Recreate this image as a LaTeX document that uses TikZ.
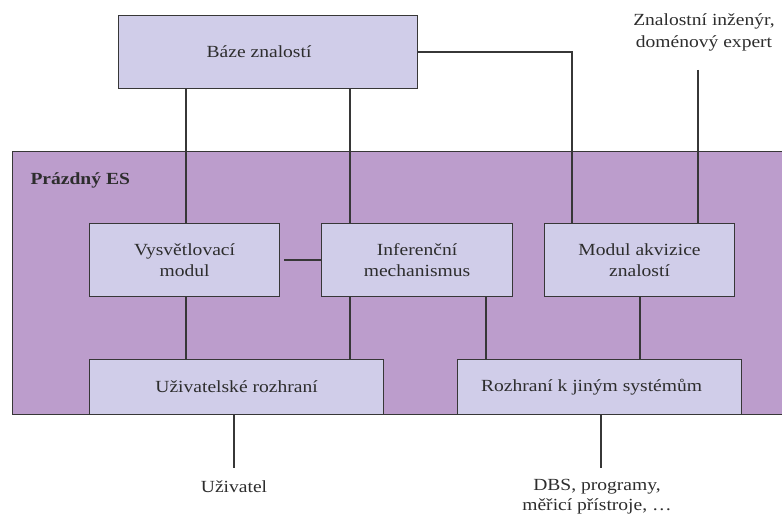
\documentclass[tikz,border=0pt]{standalone}
\usepackage{fontspec}
\setmainfont{Liberation Serif}[FakeStretch=1.15]
\definecolor{boxfill}{RGB}{208,205,233}
\definecolor{shellfill}{RGB}{188,157,204}
\definecolor{edge}{RGB}{55,55,55}
\definecolor{ink}{RGB}{45,45,45}
\begin{document}
\begin{tikzpicture}[x=1pt,y=-1pt,
  every node/.style={text=ink, font=\fontsize{17}{21}\selectfont},
  module/.style={draw=edge, fill=boxfill, line width=1.1pt, anchor=north west,
    align=center, inner sep=0pt},
  shell/.style={draw=edge, fill=shellfill, line width=1.1pt, anchor=north west,
    inner sep=0pt},
  link/.style={draw=edge, line width=1.2pt}]
\useasboundingbox (0,0) rectangle (782,516);
\clip (0,0) rectangle (782,516);

% empty expert system shell
\node[shell, minimum width=790pt, minimum height=263pt] (es) at (12,151) {};
\node[anchor=base west, font=\fontsize{17}{21}\selectfont\bfseries] (eslabel) at (27,184) {Prázdný ES};

% modules
\node[module, minimum width=299pt, minimum height=73pt] (baze) at (118,15) {\hspace*{-18pt}Báze znalostí};
\node[module, minimum width=190pt, minimum height=73pt] (vysv) at (89,223) {Vysvětlovací\\modul};
\node[module, minimum width=191pt, minimum height=73pt] (inf) at (321,223) {Inferenční\\mechanismus};
\node[module, minimum width=190pt, minimum height=73pt] (akv) at (544,223) {Modul akvizice\\znalostí};
\node[module, minimum width=294pt, minimum height=55pt] (uziv) at (89,359) {Uživatelské rozhraní};
\node[module, minimum width=284pt, minimum height=55pt] (rozh) at (457,359) {\hspace*{-16pt}Rozhraní k jiným systémům};

% outside actors
\node[anchor=north, align=center, font=\fontsize{17}{22}\selectfont] (expert) at (704,10) {Znalostní inženýr,\\doménový expert};
\node[anchor=base] (user) at (234,492) {Uživatel};
\node[anchor=north, align=center, font=\fontsize{17}{20}\selectfont] (dbs) at (597,476) {DBS, programy,\\měřicí přístroje, …};
\coordinate (expertend) at (698,70);
\coordinate (userend) at (234,468);
\coordinate (dbsend) at (601,468);

% connectors
\draw[link] ([xshift=68pt]baze.south west) -- ([xshift=97pt]vysv.north west);
\draw[link] ([xshift=29pt]inf.north west) -- ([xshift=29pt]inf.north west |- baze.south);
\draw[link] (baze.east) -| ([xshift=28pt]akv.north west);
\draw[link] (expertend) -- (expertend |- akv.north);
\draw[link] ([xshift=4pt]vysv.east) -- (inf.west);
\draw[link] ([xshift=97pt]vysv.south west) -- ([xshift=97pt]vysv.south west |- uziv.north);
\draw[link] ([xshift=29pt]inf.south west) -- ([xshift=29pt]inf.south west |- uziv.north);
\draw[link] ([xshift=165pt]inf.south west) -- ([xshift=165pt]inf.south west |- rozh.north);
\draw[link] ([xshift=96pt]akv.south west) -- ([xshift=96pt]akv.south west |- rozh.north);
\draw[link] (userend |- uziv.south) -- (userend);
\draw[link] (dbsend |- rozh.south) -- (dbsend);
\end{tikzpicture}
\end{document}
